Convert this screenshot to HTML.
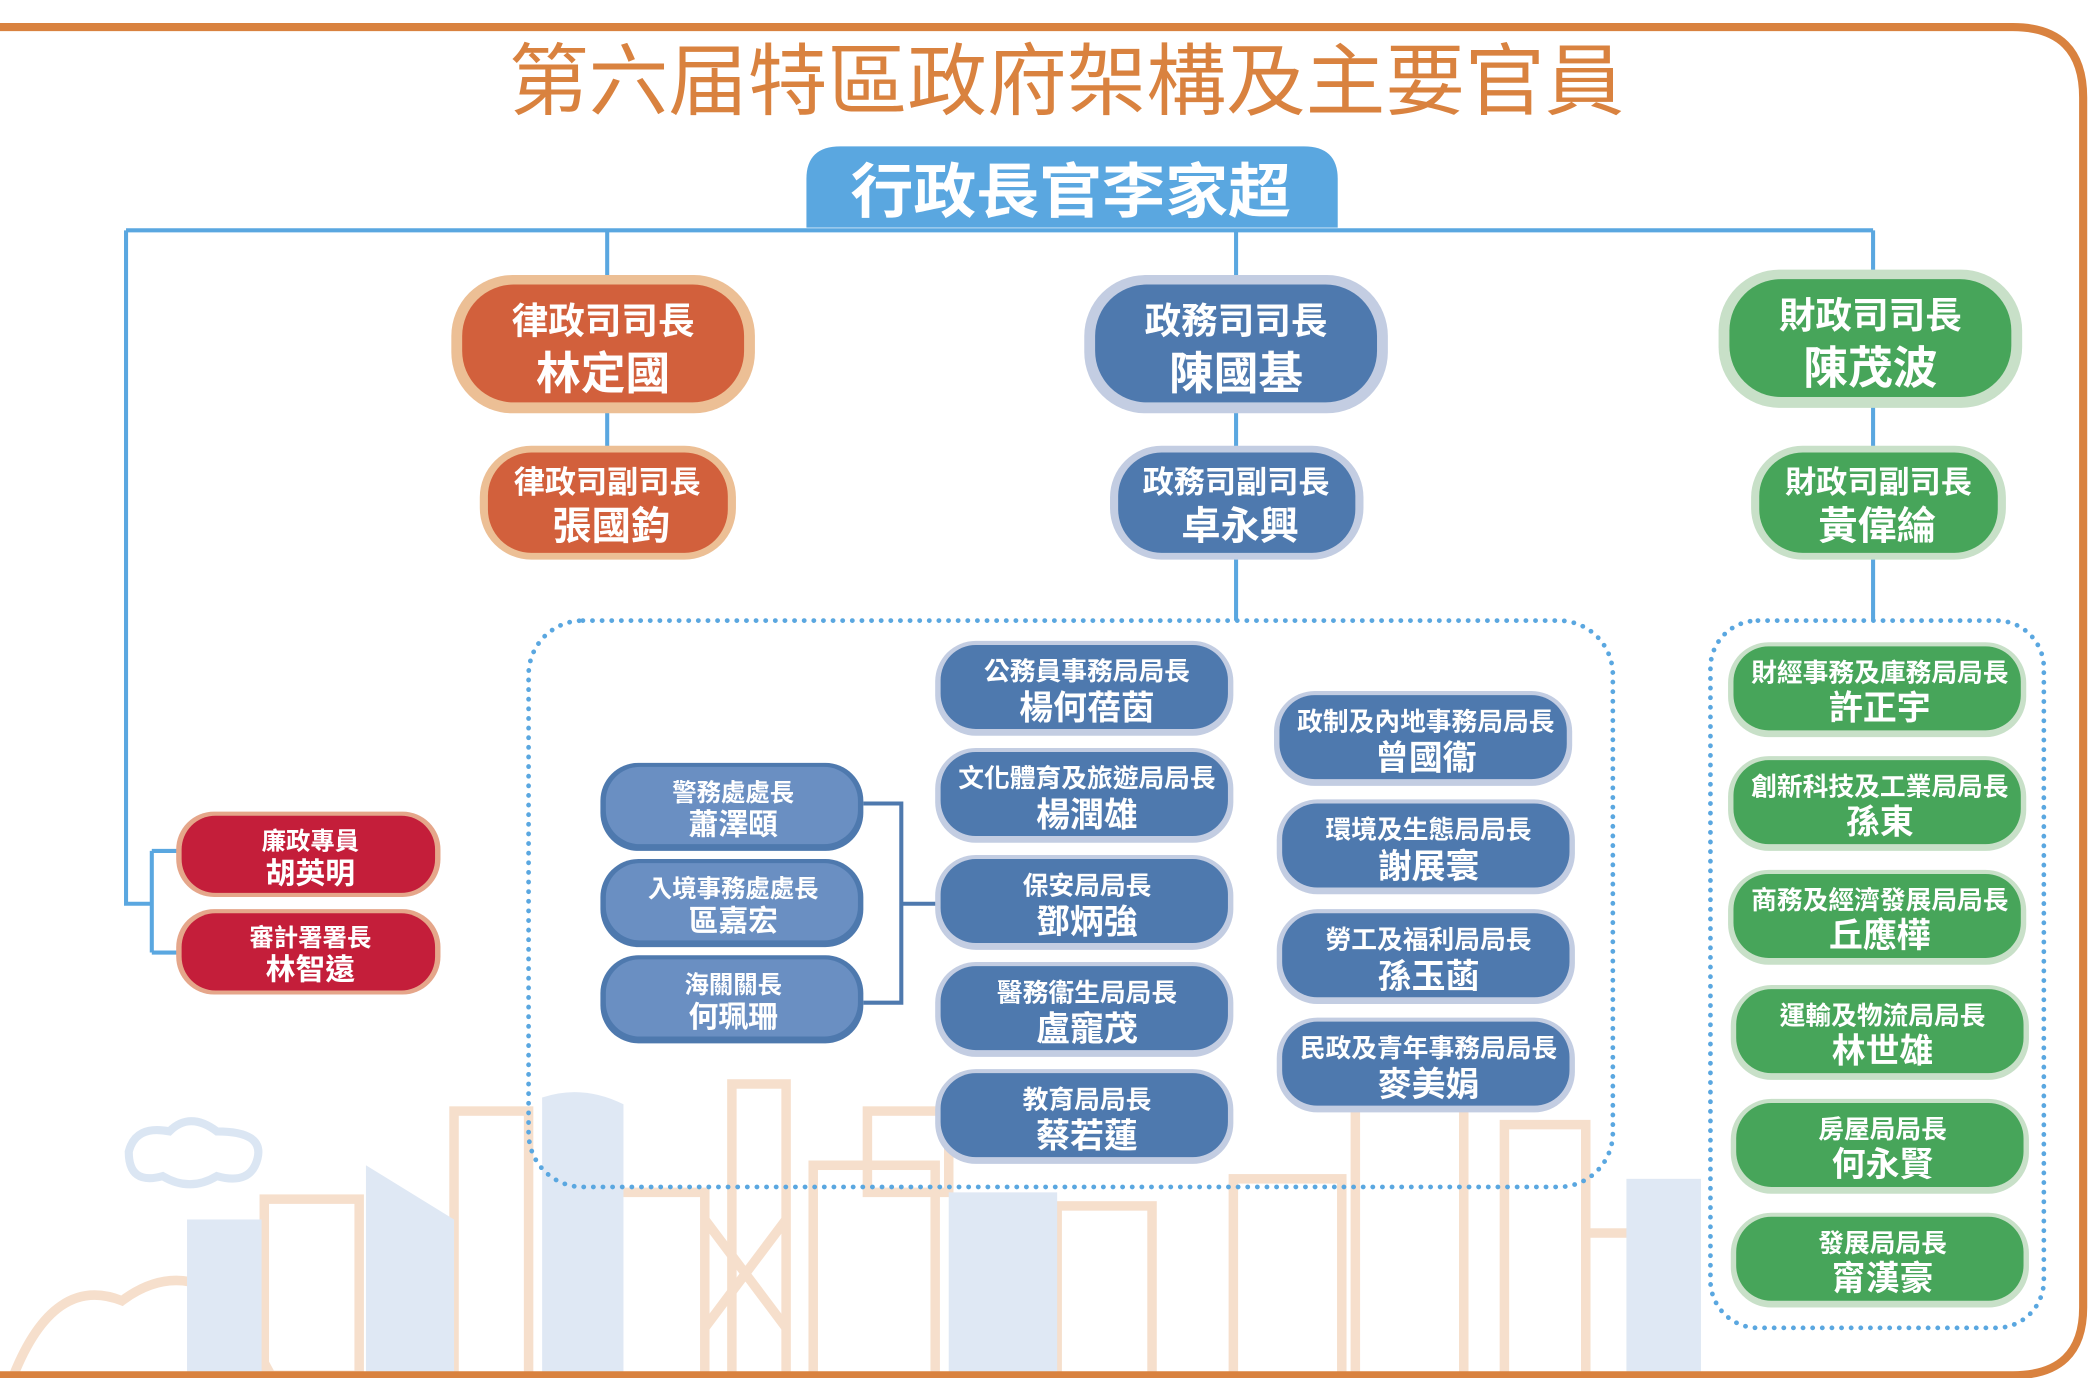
<!DOCTYPE html>
<html><head><meta charset="utf-8"><style>
html,body{margin:0;padding:0;background:#fff;}
svg{display:block}
text{font-family:"Liberation Sans","Noto Sans CJK TC",sans-serif;font-weight:bold;text-anchor:middle;}
</style></head><body>
<svg width="2094" height="1378" viewBox="0 0 1545 1017" preserveAspectRatio="none" xmlns="http://www.w3.org/2000/svg">
<!-- skyline background -->
<g fill="none" stroke="#f6dfcc" stroke-width="7">
<rect x="335" y="820" width="55" height="200"/>
<rect x="195" y="885" width="70" height="130"/>
<rect x="420" y="880" width="100" height="140"/>
<rect x="540" y="800" width="40" height="220"/>
<rect x="600" y="860" width="90" height="160"/>
<rect x="640" y="820" width="60" height="60"/>
<rect x="780" y="890" width="70" height="130"/>
<rect x="910" y="870" width="80" height="150"/>
<rect x="1000" y="800" width="80" height="220"/>
<rect x="1110" y="830" width="60" height="190"/>
<rect x="1170" y="910" width="60" height="110"/>
<path d="M10 1015 Q40 940 90 960 Q130 930 170 960 L200 1015"/>
<path d="M280 1015 L280 930 Q300 900 320 930 L320 1015"/>
<path d="M520 900 L580 980 M580 900 L520 980"/>
</g>
<g fill="#dfe8f4">
<path d="M270 860 L335 900 L335 1015 L270 1015Z"/>
<rect x="138" y="900" width="55" height="115"/>
<path d="M400 810 Q430 800 460 815 L460 1015 L400 1015Z"/>
<rect x="700" y="880" width="80" height="135"/>
<rect x="1200" y="870" width="55" height="145"/>
</g>
<path d="M95 850 Q100 830 125 835 Q140 820 160 835 Q195 835 190 855 Q185 875 160 868 Q140 880 120 868 Q95 875 95 850Z" fill="none" stroke="#dbe6f3" stroke-width="6"/>
<!-- frame -->
<path d="M0 20 L1485 20 Q1537 20 1537 72 L1537 965 Q1537 1015 1485 1015 L0 1015" fill="none" stroke="#d9823f" stroke-width="6"/>
<!-- title -->
<text x="787" y="80" font-size="58" fill="#d9823f" textLength="823" lengthAdjust="spacingAndGlyphs" style="font-weight:normal">第六届特區政府架構及主要官員</text>
<!-- CE -->
<path d="M595 168 L595 132 Q595 108 620 108 L962 108 Q987 108 987 132 L987 168Z" fill="#5aa7e0"/>
<text x="790" y="157" font-size="44" fill="#fff" textLength="325" lengthAdjust="spacingAndGlyphs">行政長官李家超</text>
<!-- connectors -->
<g stroke="#5aa7e0" stroke-width="3" fill="none">
<path d="M93 170 L1382 170"/>
<path d="M448 170 V330 M912 170 V458 M1382 170 V458"/>
<path d="M93 170 V667 H112 M112 628 V703 M112 628 H132 M112 703 H132"/>
</g>
<g stroke="#4e79ae" stroke-width="3" fill="none">
<path d="M637 593 H665 V740 H637 M665 667 H692"/>
</g>
<!-- dotted groups -->
<rect x="390" y="458" width="800" height="418" rx="40" fill="none" stroke="#5aa7e0" stroke-width="3.5" stroke-dasharray="0.1 7" stroke-linecap="round"/>
<rect x="1262" y="458" width="246" height="522" rx="35" fill="none" stroke="#5aa7e0" stroke-width="3.5" stroke-dasharray="0.1 7" stroke-linecap="round"/>
<!-- secretaries -->
<g>
<rect x="333" y="203" width="224" height="102" rx="45" fill="#ecbf95"/>
<rect x="341" y="210" width="208" height="87" rx="38" fill="#d2603c"/>
<text x="445" y="246" font-size="27" fill="#fff">律政司司長</text>
<text x="445" y="287" font-size="33" fill="#fff">林定國</text>
<rect x="800" y="203" width="224" height="102" rx="45" fill="#c3cde2"/>
<rect x="808" y="210" width="208" height="87" rx="38" fill="#4e79ae"/>
<text x="912" y="246" font-size="27" fill="#fff">政務司司長</text>
<text x="912" y="287" font-size="33" fill="#fff">陳國基</text>
<rect x="1268" y="199" width="224" height="102" rx="45" fill="#c8e0c8"/>
<rect x="1276" y="206" width="208" height="87" rx="38" fill="#47a55a"/>
<text x="1380" y="242" font-size="27" fill="#fff">財政司司長</text>
<text x="1380" y="283" font-size="33" fill="#fff">陳茂波</text>
<!-- deputies -->
<rect x="354" y="329" width="189" height="84" rx="38" fill="#ecbf95"/>
<rect x="360" y="334" width="177" height="74" rx="32" fill="#d2603c"/>
<text x="448" y="364" font-size="23" fill="#fff">律政司副司長</text>
<text x="451" y="398" font-size="29" fill="#fff">張國鈞</text>
<rect x="819" y="329" width="187" height="84" rx="38" fill="#c3cde2"/>
<rect x="825" y="334" width="175" height="74" rx="32" fill="#4e79ae"/>
<text x="912" y="364" font-size="23" fill="#fff">政務司副司長</text>
<text x="915" y="398" font-size="29" fill="#fff">卓永興</text>
<rect x="1292" y="329" width="188" height="84" rx="38" fill="#c8e0c8"/>
<rect x="1298" y="334" width="176" height="74" rx="32" fill="#47a55a"/>
<text x="1386" y="364" font-size="23" fill="#fff">財政司副司長</text>
<text x="1385" y="398" font-size="29" fill="#fff">黃偉綸</text>
</g>
<!-- bureau boxes col1 -->
<g font-size="19" fill="#fff">
<g>
<rect x="690" y="473" width="220" height="70" rx="30" fill="#c3cde2"/><rect x="694" y="476" width="212" height="62" rx="26" fill="#4e79ae"/>
<text x="802" y="502" font-size="19" fill="#fff">公務員事務局局長</text><text x="802" y="531" font-size="25" fill="#fff">楊何蓓茵</text>
<rect x="690" y="552" width="220" height="70" rx="30" fill="#c3cde2"/><rect x="694" y="555" width="212" height="62" rx="26" fill="#4e79ae"/>
<text x="802" y="581" font-size="19" fill="#fff">文化體育及旅遊局局長</text><text x="802" y="610" font-size="25" fill="#fff">楊潤雄</text>
<rect x="690" y="631" width="220" height="70" rx="30" fill="#c3cde2"/><rect x="694" y="634" width="212" height="62" rx="26" fill="#4e79ae"/>
<text x="802" y="660" font-size="19" fill="#fff">保安局局長</text><text x="802" y="689" font-size="25" fill="#fff">鄧炳強</text>
<rect x="690" y="710" width="220" height="70" rx="30" fill="#c3cde2"/><rect x="694" y="713" width="212" height="62" rx="26" fill="#4e79ae"/>
<text x="802" y="739" font-size="19" fill="#fff">醫務衞生局局長</text><text x="802" y="768" font-size="25" fill="#fff">盧寵茂</text>
<rect x="690" y="789" width="220" height="70" rx="30" fill="#c3cde2"/><rect x="694" y="792" width="212" height="62" rx="26" fill="#4e79ae"/>
<text x="802" y="818" font-size="19" fill="#fff">教育局局長</text><text x="802" y="847" font-size="25" fill="#fff">蔡若蓮</text>
</g>
<!-- col2 -->
<rect x="940" y="510" width="220" height="70" rx="30" fill="#c3cde2"/><rect x="944" y="513" width="212" height="62" rx="26" fill="#4e79ae"/>
<text x="1052" y="539" font-size="19" fill="#fff">政制及內地事務局局長</text><text x="1052" y="568" font-size="25" fill="#fff">曾國衞</text>
<rect x="942" y="590" width="220" height="70" rx="30" fill="#c3cde2"/><rect x="946" y="593" width="212" height="62" rx="26" fill="#4e79ae"/>
<text x="1054" y="619" font-size="19" fill="#fff">環境及生態局局長</text><text x="1054" y="648" font-size="25" fill="#fff">謝展寰</text>
<rect x="942" y="671" width="220" height="70" rx="30" fill="#c3cde2"/><rect x="946" y="674" width="212" height="62" rx="26" fill="#4e79ae"/>
<text x="1054" y="700" font-size="19" fill="#fff">勞工及福利局局長</text><text x="1054" y="729" font-size="25" fill="#fff">孫玉菡</text>
<rect x="942" y="751" width="220" height="70" rx="30" fill="#c3cde2"/><rect x="946" y="754" width="212" height="62" rx="26" fill="#4e79ae"/>
<text x="1054" y="780" font-size="19" fill="#fff">民政及青年事務局局長</text><text x="1054" y="809" font-size="25" fill="#fff">麥美娟</text>
<!-- disciplined -->
<rect x="443" y="563" width="194" height="65" rx="28" fill="#4e79ae"/><rect x="447" y="566" width="186" height="57" rx="25" fill="#6a8fc2"/>
<text x="541" y="591" font-size="18" fill="#fff">警務處處長</text><text x="541" y="616" font-size="22" fill="#fff">蕭澤頤</text>
<rect x="443" y="634" width="194" height="65" rx="28" fill="#4e79ae"/><rect x="447" y="637" width="186" height="57" rx="25" fill="#6a8fc2"/>
<text x="541" y="662" font-size="18" fill="#fff">入境事務處處長</text><text x="541" y="687" font-size="22" fill="#fff">區嘉宏</text>
<rect x="443" y="705" width="194" height="65" rx="28" fill="#4e79ae"/><rect x="447" y="708" width="186" height="57" rx="25" fill="#6a8fc2"/>
<text x="541" y="733" font-size="18" fill="#fff">海關關長</text><text x="541" y="758" font-size="22" fill="#fff">何珮珊</text>
<!-- red -->
<rect x="130" y="599" width="195" height="63" rx="28" fill="#e5a68a"/><rect x="134" y="602" width="187" height="57" rx="25" fill="#c41e3a"/>
<text x="229" y="627" font-size="18" fill="#fff">廉政專員</text><text x="229" y="652" font-size="22" fill="#fff">胡英明</text>
<rect x="130" y="671" width="195" height="63" rx="28" fill="#e5a68a"/><rect x="134" y="674" width="187" height="57" rx="25" fill="#c41e3a"/>
<text x="229" y="698" font-size="18" fill="#fff">審計署署長</text><text x="229" y="723" font-size="22" fill="#fff">林智遠</text>
<!-- green -->
<rect x="1275" y="474" width="220" height="70" rx="30" fill="#c8e0c8"/><rect x="1279" y="477" width="212" height="62" rx="26" fill="#47a55a"/>
<text x="1387" y="503" font-size="19" fill="#fff">財經事務及庫務局局長</text><text x="1387" y="531" font-size="25" fill="#fff">許正宇</text>
<rect x="1275" y="558" width="220" height="70" rx="30" fill="#c8e0c8"/><rect x="1279" y="561" width="212" height="62" rx="26" fill="#47a55a"/>
<text x="1387" y="587" font-size="19" fill="#fff">創新科技及工業局局長</text><text x="1387" y="615" font-size="25" fill="#fff">孫東</text>
<rect x="1275" y="642" width="220" height="70" rx="30" fill="#c8e0c8"/><rect x="1279" y="645" width="212" height="62" rx="26" fill="#47a55a"/>
<text x="1387" y="671" font-size="19" fill="#fff">商務及經濟發展局局長</text><text x="1387" y="699" font-size="25" fill="#fff">丘應樺</text>
<rect x="1277" y="727" width="220" height="70" rx="30" fill="#c8e0c8"/><rect x="1281" y="730" width="212" height="62" rx="26" fill="#47a55a"/>
<text x="1389" y="756" font-size="19" fill="#fff">運輸及物流局局長</text><text x="1389" y="784" font-size="25" fill="#fff">林世雄</text>
<rect x="1277" y="811" width="220" height="70" rx="30" fill="#c8e0c8"/><rect x="1281" y="814" width="212" height="62" rx="26" fill="#47a55a"/>
<text x="1389" y="840" font-size="19" fill="#fff">房屋局局長</text><text x="1389" y="868" font-size="25" fill="#fff">何永賢</text>
<rect x="1277" y="895" width="220" height="70" rx="30" fill="#c8e0c8"/><rect x="1281" y="898" width="212" height="62" rx="26" fill="#47a55a"/>
<text x="1389" y="924" font-size="19" fill="#fff">發展局局長</text><text x="1389" y="952" font-size="25" fill="#fff">甯漢豪</text>
</g>
</svg>
</body></html>
